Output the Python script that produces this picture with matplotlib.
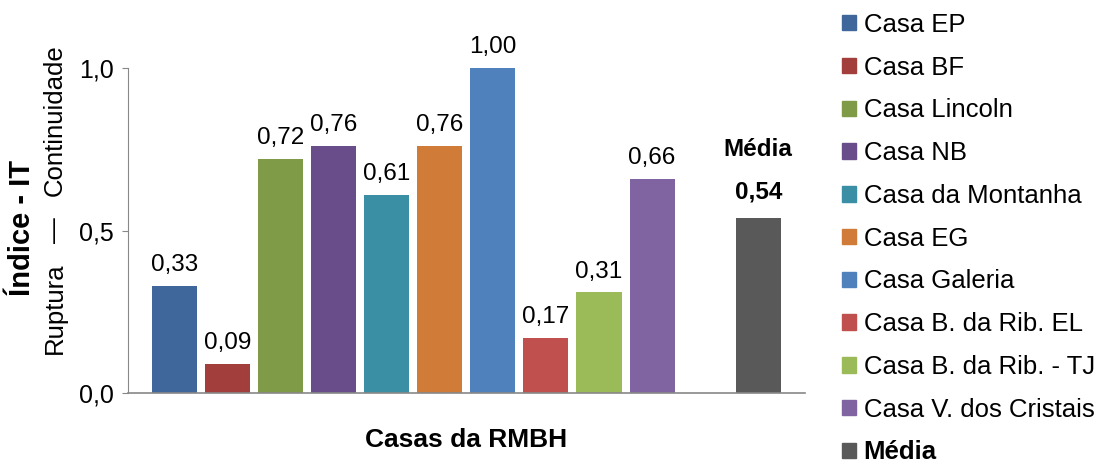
import matplotlib.pyplot as plt
from matplotlib.patches import Patch

casas = ['Casa EP', 'Casa BF', 'Casa Lincoln', 'Casa NB', 'Casa da Montanha',
         'Casa EG', 'Casa Galeria', 'Casa B. da Rib. EL', 'Casa B. da Rib. - TJ',
         'Casa V. dos Cristais']
valores = [0.33, 0.09, 0.72, 0.76, 0.61, 0.76, 1.00, 0.17, 0.31, 0.66]
media = 0.54
cores = ['#3F679B', '#A23F3C', '#7F9B48', '#684D8A', '#3A8FA4',
         '#D07B37', '#4F81BD', '#C0504D', '#9BBB59', '#8064A2']
cor_media = '#595959'

plt.rcParams['font.family'] = ['Liberation Sans', 'DejaVu Sans']

fig = plt.figure(figsize=(11.05, 4.63), dpi=100)
ax = fig.add_axes([128/1105, 70/463, 677/1105, 325/463])

pos = list(range(len(casas)))
ax.bar(pos, valores, width=0.85, color=cores)
ax.bar([11], [media], width=0.85, color=cor_media)

for x, v in zip(pos, valores):
    ax.annotate(f'{v:.2f}'.replace('.', ','), (x, v), xytext=(0, 7),
                textcoords='offset points', ha='center', va='bottom', fontsize=17.5)
ax.annotate(f'{media:.2f}'.replace('.', ','), (11, media), xytext=(0, 10),
            textcoords='offset points', ha='center', va='bottom', fontsize=17.5,
            fontweight='bold')
ax.annotate('Média', (11, media), xytext=(0, 41), textcoords='offset points',
            ha='center', va='bottom', fontsize=17.5, fontweight='bold')

ax.set_xlim(-0.87, 11.88)
ax.set_ylim(0, 1.0)
ax.set_yticks([0, 0.5, 1.0])
ax.set_yticklabels(['0,0', '0,5', '1,0'], fontsize=18)
ax.set_xticks([])
ax.tick_params(axis='y', length=4, color='#888888', pad=6)
for s in ['top', 'right']:
    ax.spines[s].set_visible(False)
ax.spines['left'].set_color('#888888')
ax.spines['bottom'].set_color('#888888')
ax.spines['bottom'].set_linewidth(1.2)

ax.set_xlabel('Casas da RMBH', fontsize=19, fontweight='bold', labelpad=25)

# composite y label
fig.text(22/1105, 1 - 228/463, 'Índice - IT', rotation=90, fontsize=21,
         fontweight='bold', ha='center', va='center')
fig.text(55/1105, 1 - 196/463, 'Continuidade', rotation=90, fontsize=18.5,
         ha='center', va='bottom')
fig.text(55/1105, 1 - 262/463, 'Ruptura', rotation=90, fontsize=18.5,
         ha='center', va='top')
fig.text(55/1105, 1 - 230/463, '—', rotation=90, fontsize=18.5,
         ha='center', va='center')

handles = [Patch(color=c) for c in cores] + [Patch(color=cor_media)]
labels = casas + ['Média']
leg = fig.legend(handles, labels, loc='upper left', bbox_to_anchor=(829/1105, 1.0),
                 frameon=False, fontsize=18.5, handlelength=0.55, handleheight=0.55,
                 handletextpad=0.3, labelspacing=0.73, borderaxespad=0.1)
leg.get_texts()[-1].set_fontweight('bold')

fig.savefig('out.png', dpi=100)
